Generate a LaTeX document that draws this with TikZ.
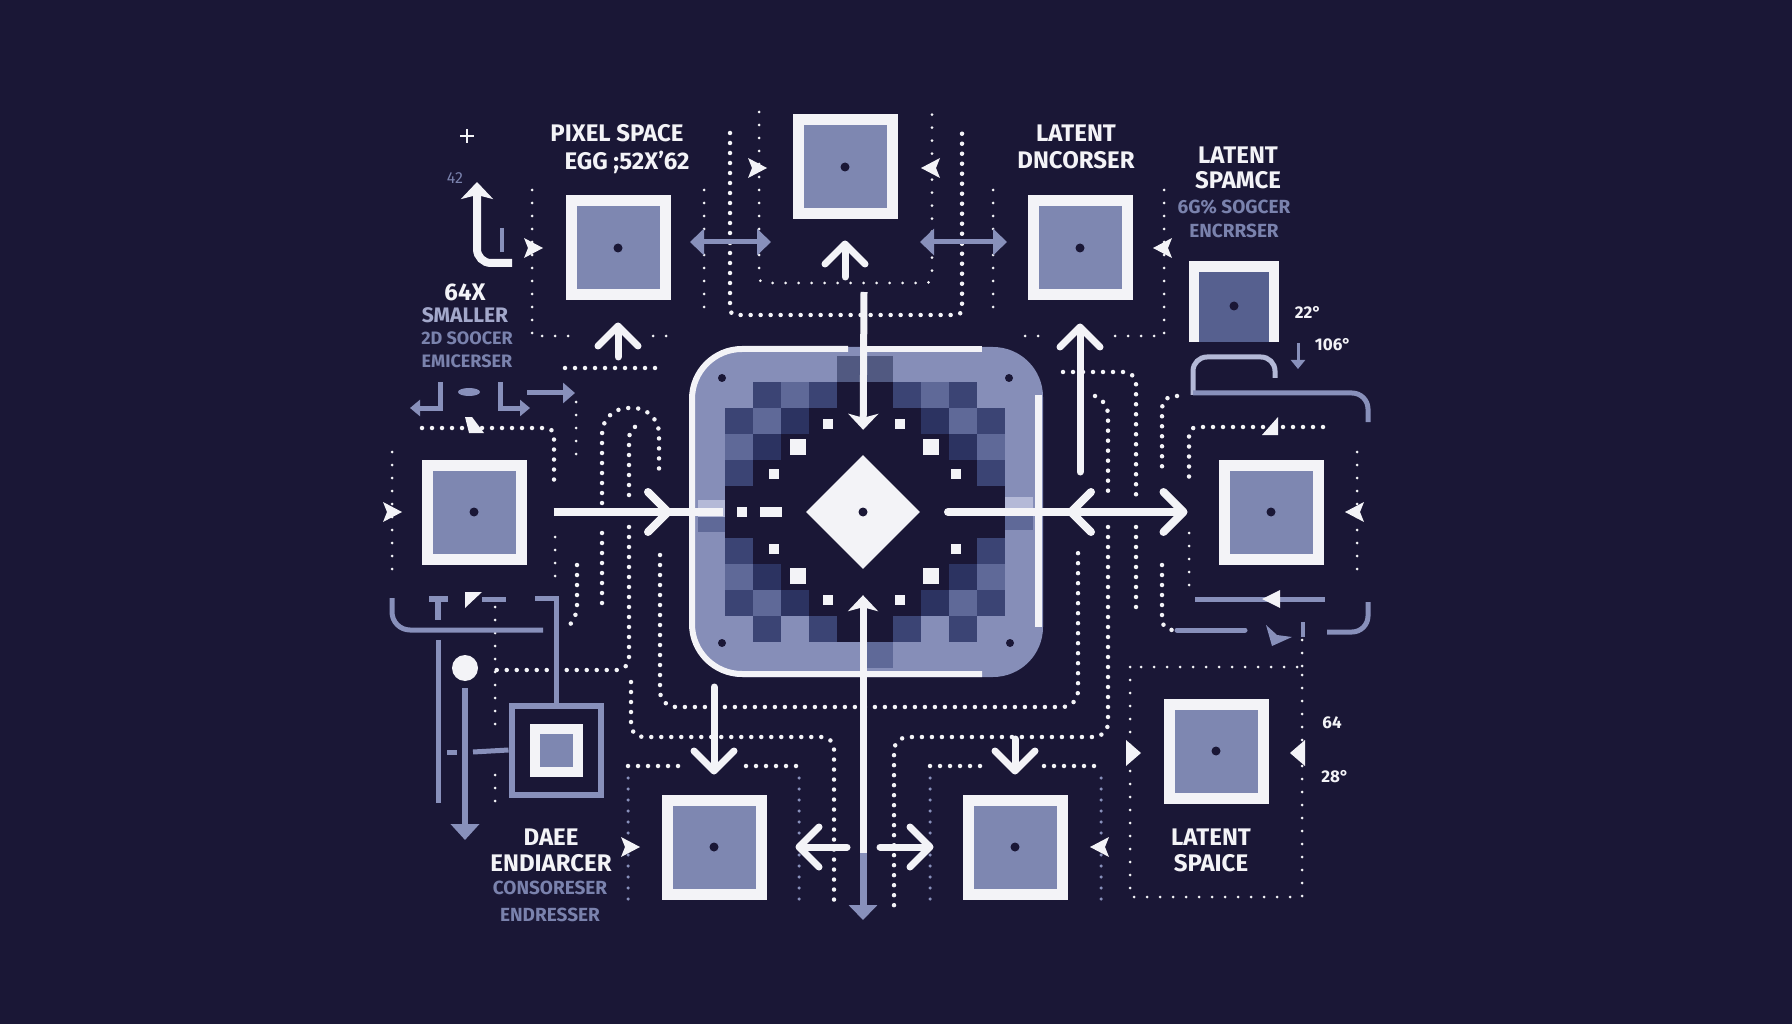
\documentclass[tikz,border=0pt]{standalone}
\usepackage{fontspec}
\setmainfont{Fira Sans}
\usetikzlibrary{arrows.meta,positioning,shapes.geometric}
\definecolor{bgnavy}{HTML}{1A1736}
\definecolor{tilew}{HTML}{F3F3F7}
\definecolor{tilef}{HTML}{7E87B1}
\definecolor{panelf}{HTML}{868EB8}
\definecolor{lav}{HTML}{8890BB}
\definecolor{lavlt}{HTML}{B4B9D7}
\definecolor{lavtxt}{HTML}{7A82AD}
\definecolor{smalltxt}{HTML}{A3A8CB}
\definecolor{darkfill}{HTML}{56608F}
\definecolor{cellL}{HTML}{868EB8}
\definecolor{cellD}{HTML}{3B4474}
\definecolor{cellK}{HTML}{2C3361}
\definecolor{cellM}{HTML}{5F6998}
\definecolor{cellN}{HTML}{1A1736}

\begin{document}
\begin{tikzpicture}[x=1pt, y=-1pt,
  tile/.style={draw=tilew, fill=tilef, line width=11pt, minimum size=94pt, inner sep=0pt,
               path picture={\fill[bgnavy] (path picture bounding box.center) circle (4.5pt);}},
  wl/.style={draw=tilew, line width=7pt},
  chev/.style={wl, line cap=round, -{Straight Barb[length=20pt, width=40pt, round]}},
  stl/.style={wl, -{Stealth[length=16pt, width=30pt, inset=4pt]}},
  lavarr/.style={draw=lav, line width=5pt, {Triangle[length=14pt, width=26pt]}-{Triangle[length=14pt, width=26pt]}},
  lavln/.style={draw=lav, line width=5pt},
  dotb/.style={draw=tilew, line width=4.5pt, line cap=round, dash pattern=on 0pt off 10pt},
  dott/.style={draw=tilew, line width=3pt, line cap=round, dash pattern=on 0pt off 13pt},
  dotl/.style={draw=lav, line width=3.5pt, line cap=round, dash pattern=on 0pt off 11pt},
  hd/.style={font=\fontsize{24}{26}\selectfont\bfseries, text=tilew, align=center, inner sep=0pt},
  sub/.style={font=\fontsize{19}{24}\selectfont\bfseries, text=lavtxt, align=center, inner sep=0pt},
  num/.style={font=\fontsize{17}{20}\selectfont\bfseries, text=tilew, inner sep=0pt},
  kite/.pic={\fill[tilew] (-9,-10) -- (10,0) -- (-9,10) -- (-5,0) -- cycle;}
]
  \fill[bgnavy] (0,0) rectangle (1792,1024);
  \useasboundingbox (0,0) rectangle (1792,1024);

  % dotted guides, top
  \draw[dott] (532,190) -- (532,336) -- (580,336);
  \draw[dott] (653,336) -- (673,336);
  \draw[dott] (704,190) -- (704,310);
  \draw[dotb, rounded corners=6pt] (730,133) -- (730,315) -- (962,315) -- (962,133);
  \draw[dott, rounded corners=6pt] (759,112) -- (759,283) -- (932,283) -- (932,112);
  \draw[dott] (993,190) -- (993,310);
  \draw[dott] (1164,190) -- (1164,336) -- (1113,336);
  \draw[dott] (1025,336) -- (1047,336);
  \draw[dotb] (565,368) -- (662,368);

  % dotted guides, left
  \draw[dott] (392,452) -- (392,573);
  \draw[dotb, rounded corners=8pt] (422,428) -- (554,428) -- (554,487);
  \draw[dott] (576,402) -- (576,467);
  \draw[dotb, rounded corners=26pt] (602,503) -- (602,408) -- (659,408) -- (659,473);
  \draw[dotb, rounded corners=10pt] (629,495) -- (629,428) -- (642,424);
  \draw[dotb] (602,533) -- (602,607);
  \draw[dott] (555,537) -- (555,587);
  \draw[dotb, rounded corners=10pt] (577,565) -- (577,617) -- (565,630);
  \draw[dotb, rounded corners=12pt] (629,527) -- (629,670) -- (495,670);
  \draw[dotb, rounded corners=12pt] (631,682) -- (631,737) -- (834,737) -- (834,907);
  \draw[dotb, rounded corners=16pt] (660,555) -- (660,707) -- (1078,707) -- (1078,553);
  \draw[dott] (495,607) -- (495,732);
  \draw[dott] (495,775) -- (495,810);

  % dotted guides, right
  \draw[dott] (1357,452) -- (1357,573);
  \draw[dotb, rounded corners=8pt] (1323,427) -- (1189,427) -- (1189,485);
  \draw[dott] (1189,533) -- (1189,597);
  \draw[dotb, rounded corners=12pt] (1063,372) -- (1136,372) -- (1136,503);
  \draw[dotb] (1136,527) -- (1136,613);
  \draw[dotb, rounded corners=10pt] (1095,396) -- (1108,404) -- (1108,497);
  \draw[dotb, rounded corners=14pt] (1108,527) -- (1108,737) -- (894,737) -- (894,907);
  \draw[dotb, rounded corners=12pt] (1177,396) -- (1162,396) -- (1162,467);
  \draw[dotb, rounded corners=8pt] (1162,565) -- (1162,628) -- (1172,630);

  % dotted brackets, bottom
  \draw[dotb] (628,766) -- (685,766);
  \draw[dotb] (746,766) -- (797,766);
  \draw[dotl] (628,778) -- (628,907);
  \draw[dotl] (799,778) -- (799,907);
  \draw[dotb] (930,766) -- (981,766);
  \draw[dotb] (1044,766) -- (1101,766);
  \draw[dotl] (930,778) -- (930,907);
  \draw[dotl] (1101,778) -- (1101,907);
  \draw[dott] (1130,667) rectangle (1302,897);
  \draw[dott] (1302,640) -- (1302,667);

  % lavender bits, left
  \draw[lavln, -{Triangle[length=10pt, width=16pt]}] (440,382) -- (440,408) -- (410,408);
  \draw[lavln, -{Triangle[length=10pt, width=16pt]}] (500,382) -- (500,408) -- (530,408);
  \fill[lav] (469,392) ellipse (11pt and 4pt);
  \draw[lavln, -{Triangle[length=12pt, width=20pt]}] (527,393) -- (575,393);
  \draw[lavln, rounded corners=18pt] (392,598) -- (392,630) -- (543,630);
  \draw[lav, line width=6pt] (429,599) -- (448,599) (438,599) -- (438,620);
  \draw[lavln] (482,599) -- (506,599);
  \draw[lav, line width=4pt] (502,228) -- (502,252);

  % lavender bits, right
  \draw[lavlt, line width=5pt, rounded corners=14pt] (1193,395) -- (1193,357) -- (1275,357) -- (1275,378);
  \draw[lavln, rounded corners=16pt] (1193,393) -- (1368,393) -- (1368,422);
  \draw[lavln] (1195,599) -- (1325,599);
  \draw[lavln, rounded corners=16pt] (1368,602) -- (1368,632) -- (1327,632);
  \draw[lavln, line cap=round] (1177,630) -- (1245,630);
  \draw[lav, line width=4pt] (1303,622) -- (1303,637);
  \fill[lav] (1266,625) -- (1272,646) -- (1292,637) -- (1277,635) -- cycle;
  \draw[lav, line width=3pt, -{Triangle[length=9pt, width=14pt]}] (1298,343) -- (1298,369);

  % central panel
  \node[fill=panelf, rounded corners=50pt, minimum width=350pt, minimum height=330pt, inner sep=0pt] (panel) at (868,512) {};
  \fill[cellM!85!black] (837,356) rectangle (893,382);
  \fill[cellM] (865,642) rectangle (893,668);
  \fill[lavlt] (698,500) rectangle (725,517);
  \fill[cellM] (698,517) rectangle (725,532);
  \fill[lavlt] (1005,497) rectangle (1033,514);
  \fill[cellM] (1005,514) rectangle (1033,530);
  \foreach \cells [count=\row from 0] in {{L,D,M,D,N,N,D,M,D,L},{D,M,K,N,N,N,N,K,M,D},
      {M,K,N,N,N,N,N,N,K,M},{D,N,N,N,N,N,N,N,N,D},{N,N,N,N,N,N,N,N,N,N},
      {N,N,N,N,N,N,N,N,N,N},{D,N,N,N,N,N,N,N,N,D},{M,K,N,N,N,N,N,N,K,M},
      {D,M,K,N,N,N,N,K,M,D},{L,D,L,D,N,N,D,L,D,L}}
    \foreach \cc [count=\col from 0] in \cells
      \fill[fill=cell\cc] ({725+28*\col},{382+26*\row}) rectangle ++(28,26);
  \foreach \sx/\sy in {828/424, 900/424, 774/474, 956/474, 774/549, 956/549, 828/600, 900/600, 742/512}
    \fill[tilew] (\sx-5,\sy-5) rectangle ++(10,10);
  \foreach \sx/\sy in {798/447, 931/447, 798/576, 931/576}
    \fill[tilew] (\sx-8,\sy-8) rectangle ++(16,16);
  \fill[tilew] (760,507) rectangle (782,517);
  \foreach \sx/\sy in {722/378, 1009/378, 722/643, 1010/643}
    \fill[bgnavy] (\sx,\sy) circle (4pt);
  \draw[tilew, line width=6pt, rounded corners=50pt] (848,349) -- (692,349) -- (692,674) -- (982,674);
  \draw[tilew, line width=6pt] (867,349) -- (982,349);
  \draw[tilew, line width=7pt] (1038,395) -- (1038,627);
  \node[diamond, fill=tilew, minimum size=114pt, inner sep=0pt,
        path picture={\fill[bgnavy] (path picture bounding box.center) circle (4.5pt);}] (core) at (863,512) {};

  % tiles
  \node[tile] (pix) at (618,248) {};
  \node[tile] (enc) at (845,167) {};
  \node[tile] (dnc) at (1080,248) {};
  \node[tile] (lft) at (474,512) {};
  \node[tile] (rgt) at (1271,512) {};
  \node[tile] (dae) at (714,847) {};
  \node[tile] (dec) at (1015,847) {};
  \node[tile] (lat) at (1216,751) {};
  \fill[tilew] (1189,261) rectangle (1279,342);
  \fill[darkfill] (1199,272) rectangle (1269,342);
  \fill[bgnavy] (1234,306) circle (4.5pt);
  \node[draw=lav, line width=6pt, minimum size=89pt, inner sep=0pt] (nst) at (556,750) {};
  \node[draw=tilew, fill=tilef, line width=10pt, minimum size=43pt, inner sep=0pt] (nsti) at (556,750) {};

  % lavender links to the nested tile
  \draw[lavln] (535,598) -- (556,598) -- (nst.north);
  \draw[lavln] (438,640) -- (438,803);
  \draw[lavln] (447,752) -- (457,752);
  \draw[lavln] (473,752) -- (nst.west);
  \fill[tilew] (465,668) circle (13pt);
  \draw[lav, line width=6pt, -{Triangle[length=16pt, width=28pt]}] (465,688) -- (465,840);

  % arrows
  \coordinate (pixin) at (618,357);
  \coordinate (encin) at (845,277);
  \coordinate (dncin) at (1080,472);
  \draw[chev, shorten >=22pt] (pixin) -- (pix.south);
  \draw[chev, shorten >=21pt] (encin) -- (enc.south);
  \draw[chev, shorten >=23pt] (dncin) -- (dnc.south);
  \draw[lavarr] (690,242) -- (771,242);
  \draw[lavarr] (920,242) -- (1007,242);
  \draw[tilew, line width=8pt, rounded corners=14pt, -{Stealth[length=17pt, width=32pt, inset=4pt]}]
    (512,263) -- (477,263) -- (477,182);

  \coordinate (vtop) at (864,292);
  \coordinate (vmid) at (863,853);
  \coordinate (vbot) at (863,920);
  \draw[stl, shorten >=25pt] (vtop) -- (core.north);
  \draw[stl, shorten >=26pt] (vmid) -- (core.south);
  \draw[lav, line width=7pt, -{Triangle[length=15pt, width=28pt]}] (vmid) -- (vbot);

  \coordinate (hl) at (723,512);
  \coordinate (hlc) at (672,512);
  \draw[wl, line width=8pt, shorten <=27pt] (lft.east) -- (hl);
  \draw[chev, line width=8pt] (630,512) -- (hlc);
  \coordinate (hr) at (948,512);
  \coordinate (hrc) at (1067,512);
  \draw[chev, line width=8pt, shorten >=31pt] (hr) -- (rgt.west);
  \draw[chev, line width=8pt] (1110,512) -- (hrc);

  \coordinate (bl) at (847,847);
  \coordinate (br) at (880,847);
  \draw[chev, shorten >=29pt] (bl) -- (dae.east);
  \draw[chev, shorten >=29pt] (br) -- (dec.west);
  \coordinate (dain) at (714,687);
  \coordinate (decin) at (1015,739);
  \draw[chev, shorten >=20pt] (dain) -- (dae.north);
  \draw[chev, shorten >=20pt] (decin) -- (dec.north);

  % small markers
  \pic at (533,248) {kite};
  \pic at (757,168) {kite};
  \pic at (392,512) {kite};
  \pic at (630,847) {kite};
  \pic[rotate=180] at (931,168) {kite};
  \pic[rotate=180] at (1163,248) {kite};
  \pic[rotate=180] at (1355,512) {kite};
  \pic[rotate=180] at (1100,847) {kite};
  \fill[tilew] (1126,740) -- (1141,753) -- (1126,766) -- cycle;
  \fill[tilew] (1305,740) -- (1290,753) -- (1305,766) -- cycle;
  \fill[tilew] (465,417) -- (472,417) -- (484,433) -- (469,433) -- cycle;
  \fill[tilew] (1262,435) -- (1278,417) -- (1278,435) -- cycle;
  \fill[tilew] (465,592) -- (482,592) -- (465,608) -- cycle;
  \fill[tilew] (1262,599) -- (1280,590) -- (1280,608) -- cycle;
  \draw[tilew, line width=2pt] (460,136) -- (474,136) (467,129) -- (467,143);

  % labels
  \node[sub, font=\fontsize{16}{18}\selectfont] (n42) at (455,178) {42};
  \node[hd] (pixlbl) at (617,133) {PIXEL SPACE};
  \node[hd] (egglbl) at (627,162) {EGG ;52X'62};
  \node[hd, font=\fontsize{24}{27}\selectfont\bfseries] (dnclbl) at (1076,147) {LATENT\\DNCORSER};
  \node[hd, font=\fontsize{24}{25}\selectfont\bfseries] (spmlbl) at (1238,168) {LATENT\\SPAMCE};
  \node[sub] (sgclbl) at (1234,219) {6G\% SOGCER\\ENCRRSER};
  \node[num] (d22) at (1308,312) {22°};
  \node[num] (d106) at (1333,345) {106°};
  \node[num] (n64) at (1332,723) {64};
  \node[num] (d28) at (1335,777) {28°};
  \node[hd] (latlbl) at (1211,850) {LATENT\\SPAICE};
  \node[hd] (daelbl) at (551,850) {DAEE\\ENDIARCER};
  \node[sub, font=\fontsize{19}{27}\selectfont\bfseries] (conlbl) at (550,901) {CONSORESER\\ENDRESSER};
  \node[hd] (x64) at (465,292) {64X};
  \node[sub, text=smalltxt, font=\fontsize{21}{24}\selectfont\bfseries] (smllbl) at (465,315) {SMALLER};
  \node[sub, font=\fontsize{18}{23}\selectfont\bfseries] (socclbl) at (467,350) {2D SOOCER\\EMICERSER};
\end{tikzpicture}
\end{document}
